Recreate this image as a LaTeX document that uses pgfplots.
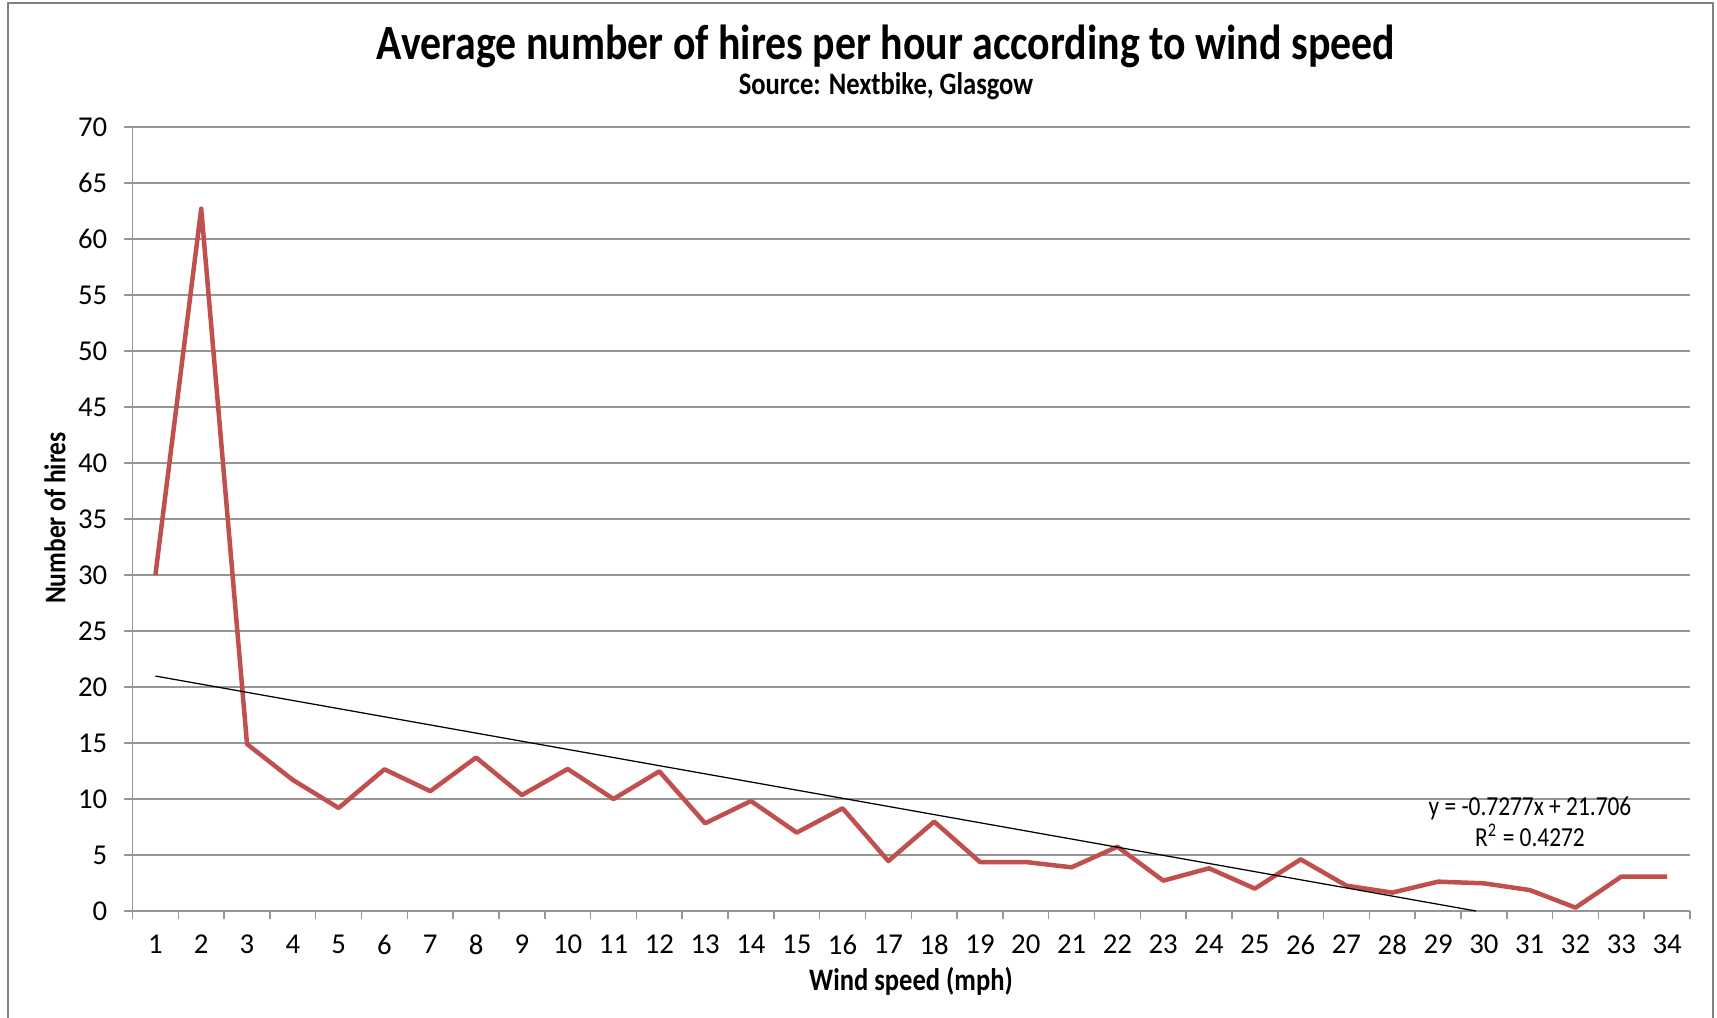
\documentclass[border=0pt]{standalone}
\usepackage{fontspec}
\setmainfont{Carlito}[FakeStretch=0.85]
\newfontfamily\tickfont{Carlito}
\usepackage{pgfplots}
\pgfplotsset{compat=1.18}
\definecolor{xlred}{RGB}{192,80,77}
\definecolor{xlgrid}{RGB}{150,150,150}
\definecolor{xlframe}{RGB}{128,128,128}

\begin{document}
\begin{tikzpicture}[x=0.4pt,y=0.4pt]
% canvas in reference pixels, origin bottom-left
\path[use as bounding box] (0,0) rectangle (1717,1018);
\draw[xlframe, line width=0.9pt] (8,-10) -- (8,1015) -- (1713,1015) -- (1713,-10);

\begin{axis}[
  at={(53pt,42.8pt)}, anchor=south west,
  scale only axis, width=623pt, height=313.6pt,
  xmin=0.5, xmax=34.5, ymin=0, ymax=70,
  axis x line*=bottom, axis y line*=left,
  axis line style={xlgrid, line width=0.6pt, -},
  xtick={1,...,34},
  minor xtick={0.5,1.5,...,34.5},
  ytick={0,5,...,70},
  tick align=outside,
  major tick length=3.6pt,
  minor tick length=3.3pt,
  x tick style={draw=none},
  minor x tick style={draw=xlgrid, line width=0.6pt},
  y tick style={xlgrid, line width=0.6pt},
  ymajorgrids,
  major grid style={xlgrid, line width=0.6pt},
  /pgf/number format/assume math mode=true,
  tick label style={font=\tickfont\fontsize{11.5}{13}\selectfont},
  xticklabel style={yshift=-2.6pt},
  yticklabel style={xshift=-3pt},
  clip=false,
]
\addplot[xlred, line width=1.8pt, line join=round, mark=none] coordinates {
(1,30.0) (2,62.7) (3,14.9) (4,11.7) (5,9.2) (6,12.65) (7,10.7) (8,13.7)
(9,10.35) (10,12.68) (11,10.0) (12,12.47) (13,7.83) (14,9.82) (15,7.0)
(16,9.17) (17,4.46) (18,7.98) (19,4.37) (20,4.37) (21,3.9) (22,5.74)
(23,2.71) (24,3.81) (25,2.0) (26,4.61) (27,2.26) (28,1.64) (29,2.62)
(30,2.47) (31,1.87) (32,0.3) (33,3.07) (34,3.07)
};
\addplot[black, line width=0.5pt, mark=none] coordinates {(1,20.978) (29.828,0)};
\end{axis}

\node[font=\fontsize{19.7}{23}\selectfont\bfseries] at (886,972) {Average number of hires per hour according to wind speed};
\node[font=\fontsize{12.5}{15}\selectfont\bfseries] at (886,932) {Source: Nextbike, Glasgow};
\node[font=\fontsize{12.5}{15}\selectfont\bfseries] at (911,37) {Wind speed (mph)};
\node[font=\fontsize{12}{14}\selectfont\bfseries, rotate=90] at (55,500) {Number of hires};
\node[font=\fontsize{11}{12.5}\selectfont, align=center] at (1530,196) {y = -0.7277x + 21.706\\R\textsuperscript{2} = 0.4272};
\end{tikzpicture}
\end{document}
